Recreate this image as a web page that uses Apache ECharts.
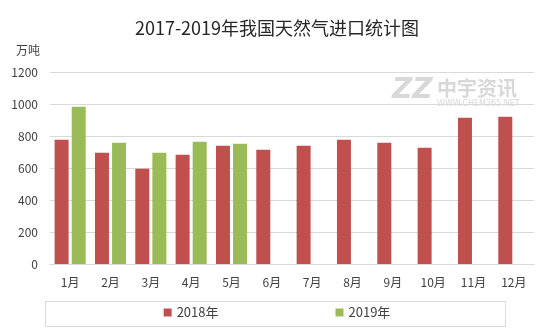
<!DOCTYPE html>
<html><head><meta charset="utf-8">
<script src="https://cdn.jsdelivr.net/npm/echarts@6/dist/echarts.min.js"></script>
<style>html,body{margin:0;padding:0;background:#fff}#c{width:554px;height:332px}</style>
</head><body><div id="c"></div>
<script>
var categories = ['1月','2月','3月','4月','5月','6月','7月','8月','9月','10月','11月','12月'];
var s2018 = [777, 695, 596, 683, 739, 714, 739, 777, 758, 727, 914, 920];
var s2019 = [983, 758, 695, 764, 752, null, null, null, null, null, null, null];
var seriesNames = ['2018年','2019年'];
var yTicks = [0, 200, 400, 600, 800, 1000, 1200];
var FONT = '"Noto Sans CJK SC", "Microsoft YaHei", sans-serif';
var chart = echarts.init(document.getElementById('c'));
chart.setOption({
  animation: false,
  textStyle: {fontFamily: FONT},
  title: {text: '2017-2019年我国天然气进口统计图', left: 'center', top: 14,
    textStyle: {fontSize: 18, fontWeight: 'normal', color: '#262626', fontFamily: FONT}},
  grid: {left: 50, right: 20, top: 72, bottom: 68},
  legend: {bottom: 8, left: 'center', itemWidth: 8, itemHeight: 8, itemGap: 117,
    icon: 'rect', textStyle: {fontSize: 13, color: '#404040', fontFamily: FONT}, data: seriesNames},
  graphic: [
    {type: 'rect', left: 43, top: 299, shape: {width: 460, height: 25}, style: {fill: 'none', stroke: '#d9d9d9', lineWidth: 1}, z: -1},
    {type: 'text', left: 392, top: 77, style: {text: 'ZZ', font: 'italic bold 28px "DejaVu Sans"', fill: '#d8d8d8'}},
    {type: 'text', left: 437, top: 78, style: {text: '中宇资讯', font: 'bold 20px "Noto Sans CJK SC"', fill: '#d8d8d8'}},
    {type: 'text', left: 437, top: 100, style: {text: 'WWW.CHEM365.NET', font: '8px "DejaVu Sans"', fill: '#d8d8d8'}}
  ],
  xAxis: {type: 'category', data: categories,
    axisLine: {lineStyle: {color: '#d9d9d9'}}, axisTick: {show: false},
    axisLabel: {fontSize: 12, color: '#404040', margin: 12, fontFamily: FONT}},
  yAxis: {type: 'value', min: 0, max: 1200, interval: 200, name: '万吨',
    nameLocation: 'end', nameGap: 16, nameTextStyle: {fontSize: 12, color: '#404040', align: 'right', padding: [0, 10, 0, 0]},
    axisLine: {show: false}, axisTick: {show: false},
    axisLabel: {fontSize: 12, color: '#404040', margin: 12,
      formatter: function(v){ return yTicks.indexOf(v) >= 0 ? String(v) : ''; }},
    splitLine: {lineStyle: {color: '#d9d9d9'}}},
  series: [
    {name: seriesNames[0], type: 'bar', data: s2018, barWidth: 14, barGap: '22%', itemStyle: {color: '#C0504D'}},
    {name: seriesNames[1], type: 'bar', data: s2019, barWidth: 14, itemStyle: {color: '#9BBB59'}}
  ]
});
</script></body></html>
